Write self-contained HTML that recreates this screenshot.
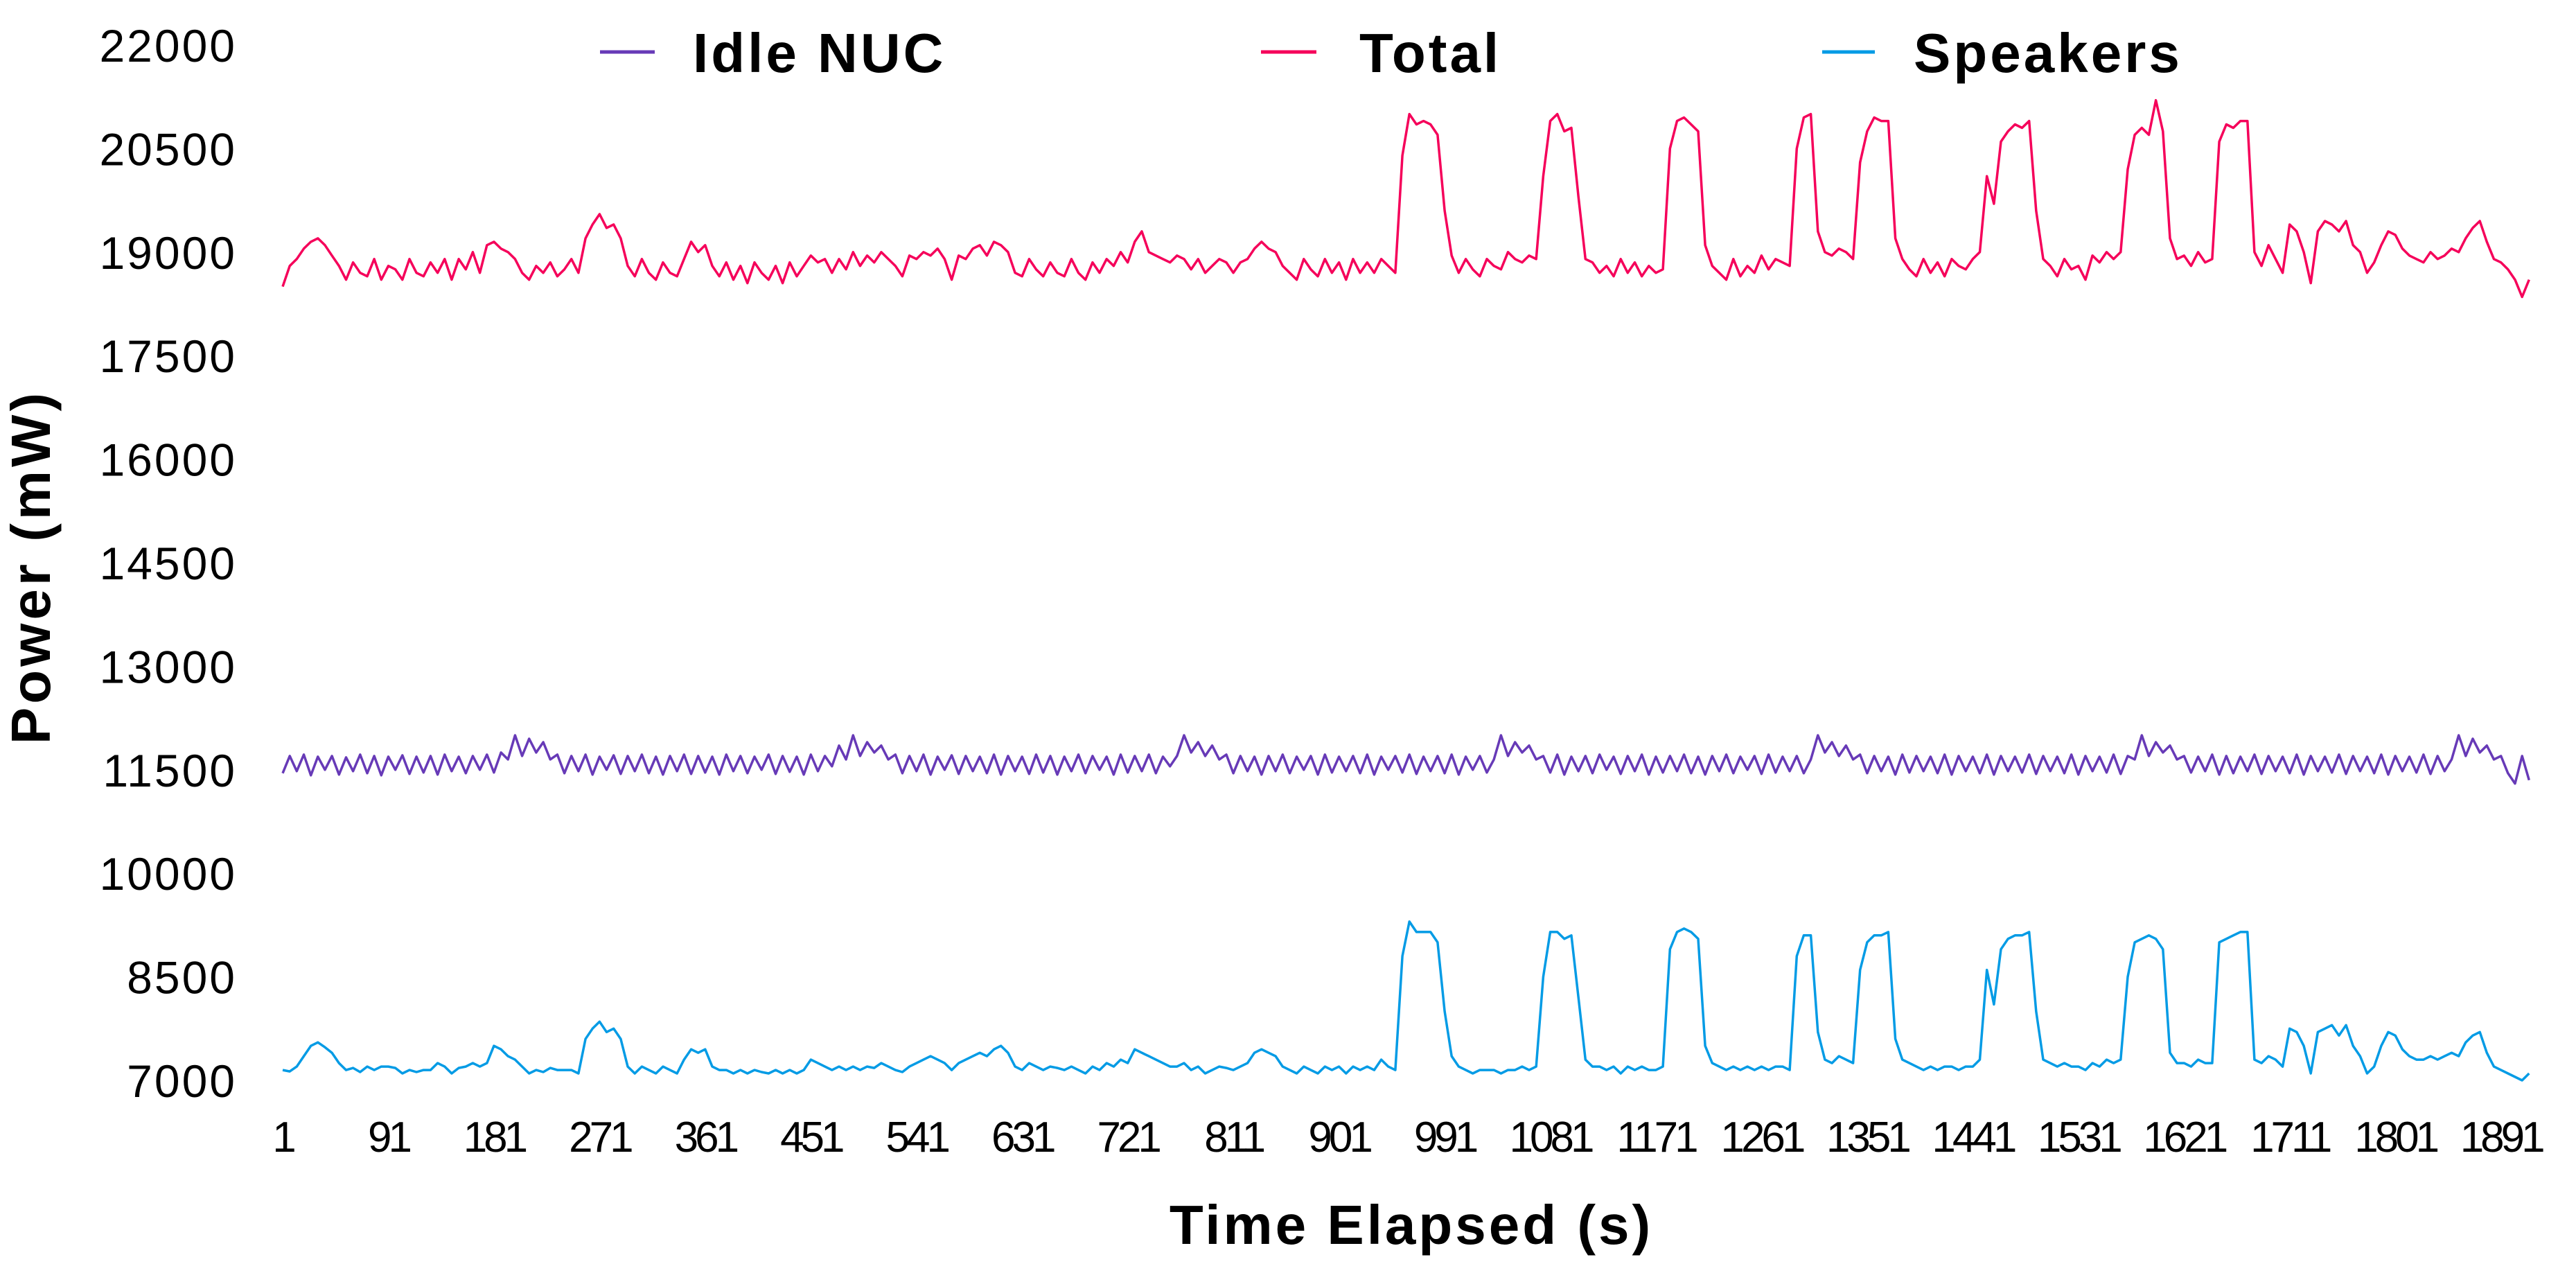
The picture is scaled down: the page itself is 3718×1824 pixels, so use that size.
<!DOCTYPE html>
<html><head><meta charset="utf-8"><style>
html,body{margin:0;padding:0;background:#fff;}
svg{display:block;}
text{font-family:"Liberation Sans",sans-serif;}
</style></head><body>
<svg id="chart" width="3718" height="1824" viewBox="0 0 3718 1824" xmlns="http://www.w3.org/2000/svg">
<g id="yticks"></g>
<g id="xticks"></g>
<g id="lines"></g>
<g>
  <g><line x1="866" y1="75" x2="945" y2="75" stroke="#673ab7" stroke-width="5"/><text x="1000" y="104" font-size="80" font-weight="bold" letter-spacing="4">Idle NUC</text></g>
  <g><line x1="1820" y1="75" x2="1900" y2="75" stroke="#f5005a" stroke-width="5"/><text x="1962" y="104" font-size="80" font-weight="bold" letter-spacing="4">Total</text></g>
  <g><line x1="2630" y1="75" x2="2706" y2="75" stroke="#039be5" stroke-width="5"/><text x="2762" y="104" font-size="80" font-weight="bold" letter-spacing="4">Speakers</text></g>
</g>
<text transform="translate(72,818) rotate(-90)" text-anchor="middle" font-size="80" font-weight="bold" letter-spacing="5">Power (mW)</text>
<text x="2037" y="1795" text-anchor="middle" font-size="80" font-weight="bold" letter-spacing="4">Time Elapsed (s)</text>
</svg>
<script>
const yTickValues=[22000,20500,19000,17500,16000,14500,13000,11500,10000,8500,7000];
const xTickLabels=[1,91,181,271,361,451,541,631,721,811,901,991,1081,1171,1261,1351,1441,1531,1621,1711,1801,1891];
const sampleStart=1;
const sampleStep=6;
const idleNuc=[
11450,11700,11480,11720,11420,11690,11500,11700,11430,11680,11480,11720,11450,11700,11420,11690,11500,11710,11440,11690,
11460,11700,11430,11720,11480,11690,11450,11700,11500,11720,11460,11750,11650,12000,11700,11950,11750,11900,11650,11720,
11450,11700,11480,11720,11430,11690,11500,11710,11440,11700,11480,11720,11450,11690,11430,11700,11480,11720,11440,11700,
11460,11690,11430,11720,11480,11700,11450,11690,11500,11720,11440,11700,11470,11690,11430,11720,11480,11700,11550,11850,
11650,12000,11700,11900,11750,11850,11650,11720,11450,11700,11480,11720,11430,11690,11500,11710,11440,11700,11480,11690,
11450,11720,11430,11700,11480,11690,11440,11720,11460,11700,11430,11690,11480,11720,11450,11700,11500,11690,11430,11720,
11460,11700,11480,11720,11450,11690,11550,11700,12000,11750,11900,11700,11850,11650,11720,11450,11700,11480,11690,11430,
11700,11480,11720,11450,11690,11500,11700,11430,11720,11460,11690,11480,11700,11450,11720,11430,11690,11500,11700,11460,
11720,11440,11690,11480,11700,11450,11720,11430,11690,11500,11700,11460,11650,12000,11700,11900,11750,11850,11650,11700,
11460,11720,11430,11690,11480,11700,11450,11720,11500,11690,11440,11700,11480,11720,11430,11690,11460,11700,11480,11720,
11450,11690,11430,11700,11480,11720,11450,11690,11500,11700,11440,11720,11460,11690,11480,11700,11450,11650,12000,11750,
11900,11700,11850,11650,11720,11450,11700,11480,11690,11430,11720,11460,11700,11480,11690,11450,11720,11430,11700,11480,
11690,11450,11720,11430,11700,11480,11690,11460,11720,11440,11700,11480,11690,11450,11720,11430,11700,11480,11690,11460,
11720,11440,11700,11650,12000,11700,11900,11750,11850,11650,11700,11460,11690,11480,11720,11430,11700,11450,11690,11480,
11720,11440,11700,11480,11690,11450,11720,11430,11700,11480,11690,11460,11720,11440,11700,11480,11690,11450,11720,11430,
11700,11480,11690,11460,11720,11440,11700,11480,11650,12000,11700,11950,11750,11850,11650,11700,11450,11300,11700,11350
];
const total=[
18500,18800,18900,19050,19150,19200,19100,18950,18800,18600,18850,18700,18650,18900,18600,18800,18750,18600,18900,18700,
18650,18850,18700,18900,18600,18900,18750,19000,18700,19100,19150,19050,19000,18900,18700,18600,18800,18700,18850,18650,
18750,18900,18700,19200,19400,19550,19350,19400,19200,18800,18650,18900,18700,18600,18850,18700,18650,18900,19150,19000,
19100,18800,18650,18850,18600,18800,18550,18850,18700,18600,18800,18550,18850,18650,18800,18950,18850,18900,18700,18900,
18750,19000,18800,18950,18850,19000,18900,18800,18650,18950,18900,19000,18950,19050,18900,18600,18950,18900,19050,19100,
18950,19150,19100,19000,18700,18650,18900,18750,18650,18850,18700,18650,18900,18700,18600,18850,18700,18900,18800,19000,
18850,19150,19300,19000,18950,18900,18850,18950,18900,18750,18900,18700,18800,18900,18850,18700,18850,18900,19050,19150,
19050,19000,18800,18700,18600,18900,18750,18650,18900,18700,18850,18600,18900,18700,18850,18700,18900,18800,18700,20400,
21000,20850,20900,20850,20700,19600,18950,18700,18900,18750,18650,18900,18800,18750,19000,18900,18850,18950,18900,20100,
20900,21000,20750,20800,19800,18900,18850,18700,18800,18650,18900,18700,18850,18650,18800,18700,18750,20500,20900,20950,
20850,20750,19100,18800,18700,18600,18900,18650,18800,18700,18950,18750,18900,18850,18800,20500,20950,21000,19300,19000,
18950,19050,19000,18900,20300,20750,20950,20900,20900,19200,18900,18750,18650,18900,18700,18850,18650,18900,18800,18750,
18900,19000,20100,19700,20600,20750,20850,20800,20900,19600,18900,18800,18650,18900,18750,18800,18600,18950,18850,19000,
18900,19000,20200,20700,20800,20700,21200,20750,19200,18900,18950,18800,19000,18850,18900,20600,20850,20800,20900,20900,
19000,18800,19100,18900,18700,19400,19300,19000,18550,19300,19450,19400,19300,19450,19100,19000,18700,18850,19100,19300,
19250,19050,18950,18900,18850,19000,18900,18950,19050,19000,19200,19350,19450,19150,18900,18850,18750,18600,18350,18600
];
const speakers=[
7150,7130,7200,7350,7500,7550,7480,7400,7250,7150,7180,7120,7200,7150,7200,7200,7180,7100,7150,7120,
7150,7150,7250,7200,7100,7180,7200,7250,7200,7250,7500,7450,7350,7300,7200,7100,7150,7120,7180,7150,
7150,7150,7100,7600,7750,7850,7700,7750,7600,7200,7100,7200,7150,7100,7200,7150,7100,7300,7450,7400,
7450,7200,7150,7150,7100,7150,7100,7150,7120,7100,7150,7100,7150,7100,7150,7300,7250,7200,7150,7200,
7150,7200,7150,7200,7180,7250,7200,7150,7120,7200,7250,7300,7350,7300,7250,7150,7250,7300,7350,7400,
7350,7450,7500,7400,7200,7150,7250,7200,7150,7200,7180,7150,7200,7150,7100,7200,7150,7250,7200,7300,
7250,7450,7400,7350,7300,7250,7200,7200,7250,7150,7200,7100,7150,7200,7180,7150,7200,7250,7400,7450,
7400,7350,7200,7150,7100,7200,7150,7100,7200,7150,7200,7100,7200,7150,7200,7150,7300,7200,7150,8800,
9300,9150,9150,9150,9000,8000,7350,7200,7150,7100,7150,7150,7150,7100,7150,7150,7200,7150,7200,8500,
9150,9150,9050,9100,8200,7300,7200,7200,7150,7200,7100,7200,7150,7200,7150,7150,7200,8900,9150,9200,
9150,9050,7500,7250,7200,7150,7200,7150,7200,7150,7200,7150,7200,7200,7150,8800,9100,9100,7700,7300,
7250,7350,7300,7250,8600,9000,9100,9100,9150,7600,7300,7250,7200,7150,7200,7150,7200,7200,7150,7200,
7200,7300,8600,8100,8900,9050,9100,9100,9150,8000,7300,7250,7200,7250,7200,7200,7150,7250,7200,7300,
7250,7300,8500,9000,9050,9100,9050,8900,7400,7250,7250,7200,7300,7250,7250,9000,9050,9100,9150,9150,
7300,7250,7350,7300,7200,7750,7700,7500,7100,7700,7750,7800,7650,7800,7500,7350,7100,7200,7500,7700,
7650,7450,7350,7300,7300,7350,7300,7350,7400,7350,7550,7650,7700,7400,7200,7150,7100,7050,7000,7100
];
const NS='http://www.w3.org/2000/svg';
function yScale(v){return 65+(22000-v)*0.0996;}
function xScale(t){return 408+(t-1)*1.694;}
const yg=document.getElementById('yticks');
yTickValues.forEach(v=>{
  const t=document.createElementNS(NS,'text');
  
  
  t.setAttribute('x',342);t.setAttribute('y',yScale(v)+24);
  t.setAttribute('text-anchor','end');t.setAttribute('font-size','66');t.setAttribute('letter-spacing','3');
  t.textContent=v;yg.appendChild(t);
});
const xg=document.getElementById('xticks');
xTickLabels.forEach(v=>{
  const t=document.createElementNS(NS,'text');
  
  
  t.setAttribute('x',xScale(v));t.setAttribute('y',1662);
  t.setAttribute('text-anchor','middle');t.setAttribute('font-size','62');t.setAttribute('letter-spacing','-5');
  t.textContent=v;xg.appendChild(t);
});
const lg=document.getElementById('lines');
function drawSeries(arr,color,name){
  const d=arr.map((v,i)=>(i?'L':'M')+xScale(sampleStart+i*sampleStep).toFixed(1)+' '+yScale(v).toFixed(1)).join(' ');
  const p=document.createElementNS(NS,'path');
  
  
  p.setAttribute('d',d);p.setAttribute('fill','none');p.setAttribute('stroke',color);
  p.setAttribute('stroke-width','3.5');p.setAttribute('stroke-linejoin','round');
  lg.appendChild(p);
}
drawSeries(idleNuc,'#673ab7','idle-nuc-line');
drawSeries(total,'#f5005a','total-line');
drawSeries(speakers,'#039be5','speakers-line');
</script>
</body></html>
